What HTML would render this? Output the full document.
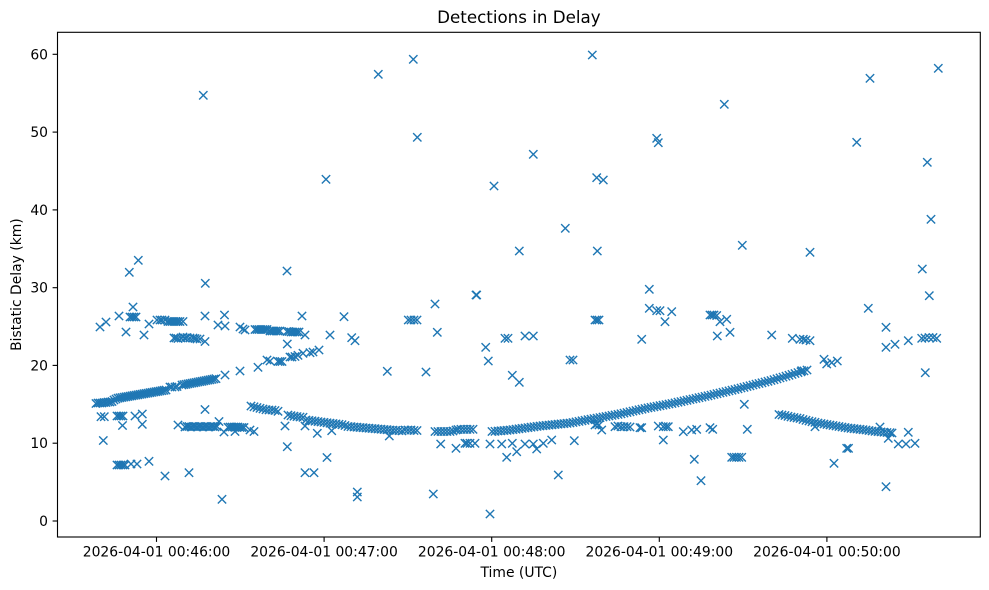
<!DOCTYPE html>
<html><head><meta charset="utf-8"><style>
html,body{margin:0;padding:0;background:#fff;}
svg{display:block;}
text{font-family:"DejaVu Sans","Liberation Sans",sans-serif;fill:#000;}
</style></head><body>
<svg width="989" height="590" viewBox="0 0 989 590" xmlns="http://www.w3.org/2000/svg" xmlns:xlink="http://www.w3.org/1999/xlink">
<defs><path id="m" d="M-4.17,-4.17L4.17,4.17M-4.17,4.17L4.17,-4.17" stroke="#1f77b4" stroke-width="1.39" fill="none"/></defs>
<rect width="989" height="590" fill="#fff"/>
<text x="518.9" y="23.2" font-size="16.7" text-anchor="middle">Detections in Delay</text>
<g id="pts">
<!-- top band left -->
<use href="#m" x="100" y="327"/><use href="#m" x="106" y="322"/><use href="#m" x="119" y="316"/><use href="#m" x="126" y="332"/><use href="#m" x="130" y="317"/><use href="#m" x="132" y="317"/><use href="#m" x="134" y="317"/><use href="#m" x="136" y="317"/><use href="#m" x="133" y="307"/><use href="#m" x="144" y="335"/><use href="#m" x="149" y="324"/><use href="#m" x="157" y="320"/><use href="#m" x="160" y="320"/><use href="#m" x="162" y="320"/><use href="#m" x="165" y="320"/><use href="#m" x="168" y="321.5"/><use href="#m" x="170" y="321.5"/><use href="#m" x="172" y="321.5"/><use href="#m" x="174" y="321.5"/><use href="#m" x="176" y="321.5"/><use href="#m" x="178" y="321.5"/><use href="#m" x="180" y="321.5"/><use href="#m" x="183" y="321.5"/>
<use href="#m" x="174" y="338"/><use href="#m" x="176" y="338"/><use href="#m" x="178" y="338.5"/><use href="#m" x="181" y="338"/><use href="#m" x="183" y="337"/><use href="#m" x="185" y="338"/><use href="#m" x="187" y="337.5"/><use href="#m" x="190" y="338"/><use href="#m" x="193" y="338"/><use href="#m" x="195" y="338.5"/><use href="#m" x="197" y="339"/><use href="#m" x="200" y="339"/><use href="#m" x="205" y="341.5"/><use href="#m" x="205" y="316"/><use href="#m" x="218" y="325"/><use href="#m" x="225" y="326"/><use href="#m" x="224.5" y="315"/>
<use href="#m" x="240" y="327"/><use href="#m" x="243" y="329"/><use href="#m" x="245" y="330"/><use href="#m" x="255" y="329.5"/><use href="#m" x="257" y="329.5"/><use href="#m" x="259" y="329.5"/><use href="#m" x="261" y="329.5"/><use href="#m" x="263" y="329.5"/><use href="#m" x="265" y="329.5"/><use href="#m" x="267" y="329.5"/><use href="#m" x="270" y="331"/><use href="#m" x="272" y="331"/><use href="#m" x="274" y="331"/><use href="#m" x="276" y="331"/><use href="#m" x="278" y="331"/><use href="#m" x="280" y="331"/><use href="#m" x="287" y="331.5"/><use href="#m" x="289" y="331.5"/><use href="#m" x="291" y="332"/><use href="#m" x="293" y="332"/><use href="#m" x="295" y="332"/><use href="#m" x="297" y="332"/><use href="#m" x="299" y="332"/><use href="#m" x="302" y="316"/><use href="#m" x="305" y="335"/><use href="#m" x="287.3" y="344"/><use href="#m" x="330" y="335"/><use href="#m" x="344" y="316.7"/><use href="#m" x="351.7" y="337.7"/><use href="#m" x="355" y="340.7"/><use href="#m" x="408.3" y="320"/><use href="#m" x="411" y="320"/><use href="#m" x="414" y="320"/><use href="#m" x="417" y="320"/><use href="#m" x="435" y="304"/><use href="#m" x="437.3" y="332.3"/>
<!-- rising band 1 -->
<use href="#m" x="96" y="403.5"/><use href="#m" x="98" y="403"/><use href="#m" x="100" y="403"/><use href="#m" x="102" y="403"/><use href="#m" x="104" y="402.5"/><use href="#m" x="106" y="402.5"/><use href="#m" x="108" y="402"/><use href="#m" x="110" y="402"/><use href="#m" x="112" y="401.5"/><use href="#m" x="114" y="400"/><use href="#m" x="116" y="399"/>
<use href="#m" x="118" y="398.2"/><use href="#m" x="120" y="397.8"/><use href="#m" x="122" y="397.5"/><use href="#m" x="124" y="397.1"/><use href="#m" x="126" y="396.8"/><use href="#m" x="128" y="396.5"/><use href="#m" x="130" y="396.1"/><use href="#m" x="132" y="395.8"/><use href="#m" x="134" y="395.4"/><use href="#m" x="136" y="395.1"/><use href="#m" x="138" y="394.8"/><use href="#m" x="140" y="394.4"/><use href="#m" x="142" y="394.1"/><use href="#m" x="144" y="393.7"/><use href="#m" x="146" y="393.4"/><use href="#m" x="148" y="393.1"/><use href="#m" x="150" y="392.7"/><use href="#m" x="152" y="392.4"/><use href="#m" x="154" y="392"/><use href="#m" x="156" y="391.7"/><use href="#m" x="158" y="391.4"/><use href="#m" x="160" y="391"/><use href="#m" x="162" y="390.7"/><use href="#m" x="164" y="390.3"/><use href="#m" x="166" y="390"/>
<use href="#m" x="170" y="387"/><use href="#m" x="172" y="387"/><use href="#m" x="175" y="387"/><use href="#m" x="177" y="386.5"/>
<use href="#m" x="182" y="385"/><use href="#m" x="184" y="384.6"/><use href="#m" x="186" y="384.3"/><use href="#m" x="188" y="383.9"/><use href="#m" x="190" y="383.5"/><use href="#m" x="192" y="383.1"/><use href="#m" x="194" y="382.8"/><use href="#m" x="196" y="382.4"/><use href="#m" x="198" y="382"/><use href="#m" x="200" y="381.6"/><use href="#m" x="202" y="381.3"/><use href="#m" x="204" y="380.9"/><use href="#m" x="206" y="380.5"/><use href="#m" x="208" y="380.1"/><use href="#m" x="210" y="379.8"/><use href="#m" x="212" y="379.4"/><use href="#m" x="214" y="379"/><use href="#m" x="216" y="378.6"/>
<use href="#m" x="225" y="375"/><use href="#m" x="240" y="371"/><use href="#m" x="258" y="367.3"/><use href="#m" x="267" y="360"/><use href="#m" x="270" y="361"/><use href="#m" x="278" y="361.5"/><use href="#m" x="280" y="361.5"/><use href="#m" x="282" y="361.5"/><use href="#m" x="290" y="357"/><use href="#m" x="292" y="357"/><use href="#m" x="295" y="356.5"/><use href="#m" x="298" y="355.3"/><use href="#m" x="303" y="353.3"/><use href="#m" x="310" y="352.7"/><use href="#m" x="313" y="352"/><use href="#m" x="319" y="350"/>
<!-- 12km band left -->
<use href="#m" x="178" y="425"/><use href="#m" x="185" y="427"/><use href="#m" x="187" y="426.5"/><use href="#m" x="189" y="426.5"/><use href="#m" x="191" y="427"/><use href="#m" x="193" y="426.5"/><use href="#m" x="195" y="426.5"/><use href="#m" x="197" y="427"/><use href="#m" x="199" y="426.5"/><use href="#m" x="201" y="426.5"/><use href="#m" x="203" y="427"/><use href="#m" x="205" y="426.5"/><use href="#m" x="207" y="426.5"/><use href="#m" x="209" y="427"/><use href="#m" x="211" y="426.5"/><use href="#m" x="213" y="426.5"/><use href="#m" x="215" y="427"/><use href="#m" x="217" y="426.5"/><use href="#m" x="219" y="421.5"/><use href="#m" x="224" y="432"/><use href="#m" x="228" y="427.3"/><use href="#m" x="230" y="427"/><use href="#m" x="232" y="427"/><use href="#m" x="234" y="427"/><use href="#m" x="236" y="427"/><use href="#m" x="238" y="427"/><use href="#m" x="240" y="427.5"/><use href="#m" x="242" y="427.5"/><use href="#m" x="244" y="427.5"/><use href="#m" x="235" y="431.5"/><use href="#m" x="250" y="430"/><use href="#m" x="254" y="431.5"/><use href="#m" x="205" y="409.5"/>
<!-- low left -->
<use href="#m" x="101" y="416.7"/><use href="#m" x="104.3" y="416.7"/><use href="#m" x="117" y="416"/><use href="#m" x="119" y="416"/><use href="#m" x="121" y="416"/><use href="#m" x="123" y="416"/><use href="#m" x="122.5" y="425.5"/><use href="#m" x="135" y="416"/><use href="#m" x="142.3" y="414"/><use href="#m" x="142.3" y="424.3"/><use href="#m" x="103.3" y="440.5"/><use href="#m" x="117" y="465"/><use href="#m" x="119" y="465"/><use href="#m" x="121" y="465"/><use href="#m" x="123" y="465"/><use href="#m" x="125" y="465"/><use href="#m" x="131" y="464"/><use href="#m" x="137" y="464"/><use href="#m" x="149" y="461.3"/><use href="#m" x="165" y="476"/><use href="#m" x="189" y="472.7"/><use href="#m" x="222" y="499.3"/>
<!-- descending band 1 -->
<use href="#m" x="251" y="406"/><use href="#m" x="254" y="406.8"/><use href="#m" x="257" y="407.5"/><use href="#m" x="260" y="408.3"/><use href="#m" x="263" y="409"/><use href="#m" x="266" y="409.7"/><use href="#m" x="269" y="410"/><use href="#m" x="272" y="410"/><use href="#m" x="275" y="410.5"/><use href="#m" x="278" y="411.3"/>
<use href="#m" x="288" y="415"/><use href="#m" x="291" y="415.7"/><use href="#m" x="294" y="416.2"/><use href="#m" x="297" y="416.6"/><use href="#m" x="300" y="417"/><use href="#m" x="303" y="417.3"/>
<use href="#m" x="306" y="420"/><use href="#m" x="309" y="420.4"/><use href="#m" x="312" y="420.8"/><use href="#m" x="315" y="421.2"/><use href="#m" x="318" y="421.6"/><use href="#m" x="321" y="422"/><use href="#m" x="324" y="422.4"/><use href="#m" x="327" y="422.8"/><use href="#m" x="330" y="423.2"/><use href="#m" x="333" y="423.5"/><use href="#m" x="336" y="423.9"/><use href="#m" x="339" y="424.3"/><use href="#m" x="342" y="424.7"/><use href="#m" x="345" y="425.5"/>
<use href="#m" x="348" y="426.5"/><use href="#m" x="351" y="426.7"/><use href="#m" x="354" y="427"/><use href="#m" x="357" y="427.2"/><use href="#m" x="360" y="427.5"/><use href="#m" x="363" y="427.7"/><use href="#m" x="366" y="428"/><use href="#m" x="369" y="428.2"/><use href="#m" x="372" y="428.5"/><use href="#m" x="375" y="428.7"/><use href="#m" x="378" y="429"/><use href="#m" x="381" y="429.2"/><use href="#m" x="384" y="429.5"/><use href="#m" x="387" y="429.7"/><use href="#m" x="390" y="430"/><use href="#m" x="393" y="430.2"/><use href="#m" x="396" y="430.4"/><use href="#m" x="399" y="430.6"/><use href="#m" x="402" y="430.9"/><use href="#m" x="405" y="430"/><use href="#m" x="408" y="430"/><use href="#m" x="411" y="430"/><use href="#m" x="414" y="430.5"/><use href="#m" x="417" y="430.5"/>
<use href="#m" x="435" y="431.5"/><use href="#m" x="438" y="431.5"/><use href="#m" x="441" y="431.5"/><use href="#m" x="444" y="431.5"/><use href="#m" x="447" y="431.5"/><use href="#m" x="450" y="431.5"/><use href="#m" x="453" y="431"/><use href="#m" x="456" y="430"/><use href="#m" x="458" y="429.5"/><use href="#m" x="461" y="429.3"/><use href="#m" x="464" y="429.3"/><use href="#m" x="467" y="429.3"/><use href="#m" x="470" y="429.3"/><use href="#m" x="473" y="429.3"/>
<use href="#m" x="285" y="426"/><use href="#m" x="305" y="426"/><use href="#m" x="317.3" y="433.3"/><use href="#m" x="331.7" y="430.7"/><use href="#m" x="389.3" y="436"/><use href="#m" x="287.3" y="446.7"/><use href="#m" x="327" y="457.5"/><use href="#m" x="305" y="472.7"/><use href="#m" x="314" y="472.7"/><use href="#m" x="357.3" y="492"/><use href="#m" x="357.3" y="497"/><use href="#m" x="433.3" y="494"/><use href="#m" x="440.7" y="444"/><use href="#m" x="456" y="448.3"/><use href="#m" x="465" y="443.3"/><use href="#m" x="467" y="443.3"/><use href="#m" x="470" y="443.3"/><use href="#m" x="475" y="443.3"/><use href="#m" x="387.3" y="371.3"/><use href="#m" x="426" y="372"/>
<!-- rising band 2 -->
<use href="#m" x="492" y="431.5"/><use href="#m" x="495" y="431.3"/><use href="#m" x="498" y="431"/><use href="#m" x="501" y="430.8"/><use href="#m" x="504" y="430.5"/><use href="#m" x="507" y="430.3"/><use href="#m" x="510" y="430"/><use href="#m" x="513" y="429.6"/><use href="#m" x="516" y="429.2"/><use href="#m" x="519" y="428.8"/><use href="#m" x="522" y="428.4"/><use href="#m" x="525" y="428"/><use href="#m" x="528" y="427.6"/><use href="#m" x="531" y="427.2"/><use href="#m" x="534" y="426.8"/><use href="#m" x="537" y="426.4"/><use href="#m" x="540" y="426"/><use href="#m" x="543" y="425.7"/><use href="#m" x="546" y="425.4"/><use href="#m" x="549" y="425.1"/><use href="#m" x="552" y="424.8"/><use href="#m" x="555" y="424.5"/><use href="#m" x="558" y="424.2"/><use href="#m" x="561" y="423.9"/><use href="#m" x="564" y="423.6"/><use href="#m" x="567" y="423.3"/><use href="#m" x="570" y="423"/><use href="#m" x="573" y="422.5"/><use href="#m" x="576" y="421.9"/><use href="#m" x="579" y="421.4"/><use href="#m" x="582" y="420.8"/><use href="#m" x="585" y="420.3"/><use href="#m" x="588" y="419.7"/><use href="#m" x="591" y="419.2"/><use href="#m" x="594" y="418.6"/><use href="#m" x="597" y="418.1"/><use href="#m" x="600" y="417.6"/><use href="#m" x="603" y="417"/><use href="#m" x="606" y="416.5"/><use href="#m" x="609" y="416"/><use href="#m" x="612" y="415.4"/><use href="#m" x="615" y="414.9"/><use href="#m" x="618" y="414.4"/><use href="#m" x="621" y="413.8"/><use href="#m" x="624" y="413.1"/><use href="#m" x="627" y="412.5"/><use href="#m" x="630" y="411.8"/><use href="#m" x="633" y="411.1"/><use href="#m" x="636" y="410.5"/><use href="#m" x="639" y="409.8"/><use href="#m" x="642" y="409.2"/><use href="#m" x="645" y="408.5"/><use href="#m" x="648" y="407.9"/><use href="#m" x="651" y="407.4"/><use href="#m" x="654" y="406.8"/><use href="#m" x="657" y="406.3"/><use href="#m" x="660" y="405.7"/><use href="#m" x="663" y="405.2"/><use href="#m" x="666" y="404.6"/><use href="#m" x="669" y="404"/><use href="#m" x="672" y="403.5"/><use href="#m" x="675" y="402.9"/><use href="#m" x="678" y="402.2"/><use href="#m" x="681" y="401.6"/><use href="#m" x="684" y="400.9"/><use href="#m" x="687" y="400.3"/><use href="#m" x="690" y="399.6"/><use href="#m" x="693" y="399"/><use href="#m" x="696" y="398.4"/><use href="#m" x="699" y="397.7"/><use href="#m" x="702" y="397.1"/><use href="#m" x="705" y="396.4"/><use href="#m" x="708" y="395.8"/><use href="#m" x="711" y="395.1"/><use href="#m" x="714" y="394.4"/><use href="#m" x="717" y="393.7"/><use href="#m" x="720" y="393"/><use href="#m" x="723" y="392.3"/><use href="#m" x="726" y="391.6"/><use href="#m" x="729" y="390.9"/><use href="#m" x="732" y="390.2"/><use href="#m" x="735" y="389.5"/><use href="#m" x="738" y="388.8"/><use href="#m" x="741" y="388"/><use href="#m" x="744" y="387.3"/><use href="#m" x="747" y="386.5"/><use href="#m" x="750" y="385.8"/><use href="#m" x="753" y="385"/><use href="#m" x="756" y="384.2"/><use href="#m" x="759" y="383.5"/><use href="#m" x="762" y="382.8"/><use href="#m" x="765" y="382"/><use href="#m" x="768" y="381.3"/><use href="#m" x="771" y="380.5"/><use href="#m" x="774" y="379.7"/><use href="#m" x="777" y="378.8"/><use href="#m" x="780" y="377.9"/><use href="#m" x="783" y="377.1"/><use href="#m" x="786" y="376.2"/><use href="#m" x="789" y="375.3"/><use href="#m" x="792" y="374.4"/><use href="#m" x="795" y="373.5"/><use href="#m" x="798" y="372.6"/><use href="#m" x="801" y="371.8"/><use href="#m" x="804" y="370.9"/><use href="#m" x="807" y="370"/>
<!-- mid-right lower points -->
<use href="#m" x="490" y="444"/><use href="#m" x="501.7" y="444"/><use href="#m" x="512.3" y="443.3"/><use href="#m" x="525" y="444"/><use href="#m" x="533.3" y="444"/><use href="#m" x="543.3" y="443.3"/><use href="#m" x="551.7" y="440"/><use href="#m" x="506.7" y="457.3"/><use href="#m" x="516.7" y="451.7"/><use href="#m" x="536.7" y="449"/><use href="#m" x="574.3" y="440.7"/><use href="#m" x="558.3" y="475"/><use href="#m" x="490" y="514"/>
<use href="#m" x="595" y="425"/><use href="#m" x="597" y="424"/><use href="#m" x="599" y="425"/><use href="#m" x="601.7" y="430"/><use href="#m" x="615" y="426.7"/><use href="#m" x="618" y="426"/><use href="#m" x="621" y="426.7"/><use href="#m" x="624" y="426.7"/><use href="#m" x="627" y="426.7"/><use href="#m" x="630" y="427"/><use href="#m" x="640" y="427.7"/>
<use href="#m" x="476.7" y="295"/><use href="#m" x="485.7" y="347.3"/><use href="#m" x="488.3" y="361"/><use href="#m" x="505" y="338.3"/><use href="#m" x="508" y="338.3"/><use href="#m" x="525" y="336"/><use href="#m" x="533.3" y="336"/><use href="#m" x="512.3" y="375.3"/><use href="#m" x="519.3" y="382.3"/><use href="#m" x="595" y="320"/><use href="#m" x="597" y="320"/><use href="#m" x="599" y="320"/><use href="#m" x="570" y="360"/><use href="#m" x="573" y="360"/><use href="#m" x="641.7" y="339.3"/>
<use href="#m" x="649.3" y="308.3"/><use href="#m" x="656.7" y="310.7"/><use href="#m" x="660" y="310.7"/><use href="#m" x="671.7" y="311.7"/><use href="#m" x="665" y="321.7"/><use href="#m" x="710" y="315"/><use href="#m" x="712" y="315"/><use href="#m" x="714" y="315"/><use href="#m" x="716.7" y="315.5"/><use href="#m" x="720" y="321.7"/><use href="#m" x="726.7" y="319.3"/><use href="#m" x="717.3" y="336"/><use href="#m" x="730" y="332.3"/><use href="#m" x="771.7" y="335"/><use href="#m" x="792.3" y="338.3"/><use href="#m" x="803.3" y="339.3"/><use href="#m" x="806" y="340"/><use href="#m" x="810" y="340.7"/><use href="#m" x="800" y="339.3"/><use href="#m" x="824" y="359.3"/><use href="#m" x="826.7" y="364"/><use href="#m" x="831.7" y="362.7"/><use href="#m" x="837.3" y="361"/><use href="#m" x="801.7" y="370.7"/><use href="#m" x="744.3" y="404.3"/>
<use href="#m" x="641.7" y="427.7"/><use href="#m" x="658.3" y="426"/><use href="#m" x="663.3" y="426.7"/><use href="#m" x="666" y="426.7"/><use href="#m" x="668.3" y="426.7"/><use href="#m" x="683.3" y="431.7"/><use href="#m" x="691.7" y="430"/><use href="#m" x="696.7" y="429.3"/><use href="#m" x="710" y="427.7"/><use href="#m" x="712.7" y="429.3"/><use href="#m" x="747.3" y="429.3"/><use href="#m" x="663.3" y="440"/><use href="#m" x="731.7" y="457.3"/><use href="#m" x="734" y="457.3"/><use href="#m" x="736.5" y="457.3"/><use href="#m" x="739" y="457.3"/><use href="#m" x="741.7" y="457.3"/><use href="#m" x="694.3" y="459.3"/><use href="#m" x="701" y="480.7"/>
<!-- descending band 2 -->
<use href="#m" x="779" y="414.5"/><use href="#m" x="782" y="415"/><use href="#m" x="785" y="415.5"/><use href="#m" x="788" y="416.3"/><use href="#m" x="791" y="417"/><use href="#m" x="794" y="417.5"/><use href="#m" x="797" y="418"/><use href="#m" x="800" y="418.5"/><use href="#m" x="803" y="419.5"/><use href="#m" x="806" y="420.3"/><use href="#m" x="809" y="421"/><use href="#m" x="812" y="421.7"/><use href="#m" x="815" y="422.3"/><use href="#m" x="818" y="423"/><use href="#m" x="821" y="423.5"/><use href="#m" x="824" y="424"/><use href="#m" x="827" y="424.5"/><use href="#m" x="830" y="425"/><use href="#m" x="833" y="425.5"/><use href="#m" x="836" y="426"/><use href="#m" x="839" y="426.5"/><use href="#m" x="842" y="427"/><use href="#m" x="845" y="427.5"/><use href="#m" x="848" y="428"/><use href="#m" x="851" y="428.3"/><use href="#m" x="854" y="428.7"/><use href="#m" x="857" y="429"/><use href="#m" x="860" y="429.3"/><use href="#m" x="863" y="429.7"/><use href="#m" x="866" y="430"/><use href="#m" x="869" y="430.5"/><use href="#m" x="872" y="431"/><use href="#m" x="875" y="431.3"/><use href="#m" x="878" y="431.6"/><use href="#m" x="881" y="431.9"/><use href="#m" x="884" y="432.2"/><use href="#m" x="887" y="432.5"/><use href="#m" x="890" y="432.7"/><use href="#m" x="892" y="433"/><use href="#m" x="815" y="426.7"/><use href="#m" x="880" y="427"/>
<!-- right side points -->
<use href="#m" x="868.3" y="308.3"/><use href="#m" x="886" y="327.3"/><use href="#m" x="886" y="347.3"/><use href="#m" x="895" y="344.3"/><use href="#m" x="908.3" y="340.7"/><use href="#m" x="921.7" y="338.3"/><use href="#m" x="925" y="338"/><use href="#m" x="929" y="337.5"/><use href="#m" x="933" y="337.5"/><use href="#m" x="936.7" y="338.3"/><use href="#m" x="925.3" y="372.7"/><use href="#m" x="888.3" y="438.3"/><use href="#m" x="908.3" y="432.3"/><use href="#m" x="898.3" y="444"/><use href="#m" x="906" y="444"/><use href="#m" x="915" y="443.3"/><use href="#m" x="846.7" y="448.3"/><use href="#m" x="848.5" y="448.3"/><use href="#m" x="834" y="463.3"/><use href="#m" x="886" y="486.7"/>
<!-- outliers high -->
<use href="#m" x="203.3" y="95.3"/><use href="#m" x="205.3" y="283.3"/><use href="#m" x="129.3" y="272.3"/><use href="#m" x="138.3" y="260.3"/><use href="#m" x="287" y="271"/><use href="#m" x="326" y="179.3"/><use href="#m" x="378.3" y="74.3"/><use href="#m" x="413.3" y="59.3"/><use href="#m" x="592.3" y="55"/><use href="#m" x="417.3" y="137.3"/><use href="#m" x="533.3" y="154.3"/><use href="#m" x="494" y="186"/><use href="#m" x="596.7" y="177.7"/><use href="#m" x="603.3" y="180"/><use href="#m" x="656.7" y="138.3"/><use href="#m" x="658.3" y="142.7"/><use href="#m" x="565.3" y="228.3"/><use href="#m" x="519.3" y="251"/><use href="#m" x="597.3" y="251"/><use href="#m" x="476" y="295"/><use href="#m" x="649.3" y="289.3"/><use href="#m" x="724.3" y="104.3"/><use href="#m" x="870" y="78.3"/><use href="#m" x="938.3" y="68.3"/><use href="#m" x="856.7" y="142.3"/><use href="#m" x="927.3" y="162.3"/><use href="#m" x="931" y="219.3"/><use href="#m" x="742.3" y="245.3"/><use href="#m" x="810" y="252.3"/><use href="#m" x="922.3" y="269"/><use href="#m" x="929.3" y="295.7"/>
</g>
<!-- axes frame -->
<rect x="57.5" y="32.3" width="922.8" height="504.7" fill="none" stroke="#000" stroke-width="1.11"/>
<!-- y ticks -->
<g stroke="#000" stroke-width="1.11">
<line x1="52.6" y1="521" x2="57.5" y2="521"/><line x1="52.6" y1="443.2" x2="57.5" y2="443.2"/><line x1="52.6" y1="365.4" x2="57.5" y2="365.4"/><line x1="52.6" y1="287.7" x2="57.5" y2="287.7"/><line x1="52.6" y1="209.9" x2="57.5" y2="209.9"/><line x1="52.6" y1="132.1" x2="57.5" y2="132.1"/><line x1="52.6" y1="54.3" x2="57.5" y2="54.3"/>
<line x1="156.5" y1="537" x2="156.5" y2="541.9"/><line x1="324.1" y1="537" x2="324.1" y2="541.9"/><line x1="491.7" y1="537" x2="491.7" y2="541.9"/><line x1="659.3" y1="537" x2="659.3" y2="541.9"/><line x1="826.9" y1="537" x2="826.9" y2="541.9"/>
</g>
<g font-size="13.9" text-anchor="end">
<text x="48" y="526">0</text><text x="48" y="448.2">10</text><text x="48" y="370.4">20</text><text x="48" y="292.7">30</text><text x="48" y="214.9">40</text><text x="48" y="137.1">50</text><text x="48" y="59.3">60</text>
</g>
<g font-size="13.9" text-anchor="middle">
<text x="156.5" y="556.5">2026-04-01 00:46:00</text><text x="324.1" y="556.5">2026-04-01 00:47:00</text><text x="491.7" y="556.5">2026-04-01 00:48:00</text><text x="659.3" y="556.5">2026-04-01 00:49:00</text><text x="826.9" y="556.5">2026-04-01 00:50:00</text>
<text x="518.9" y="577">Time (UTC)</text>
<text transform="translate(21,284.6) rotate(-90)">Bistatic Delay (km)</text>
</g>
</svg>
</body></html>
